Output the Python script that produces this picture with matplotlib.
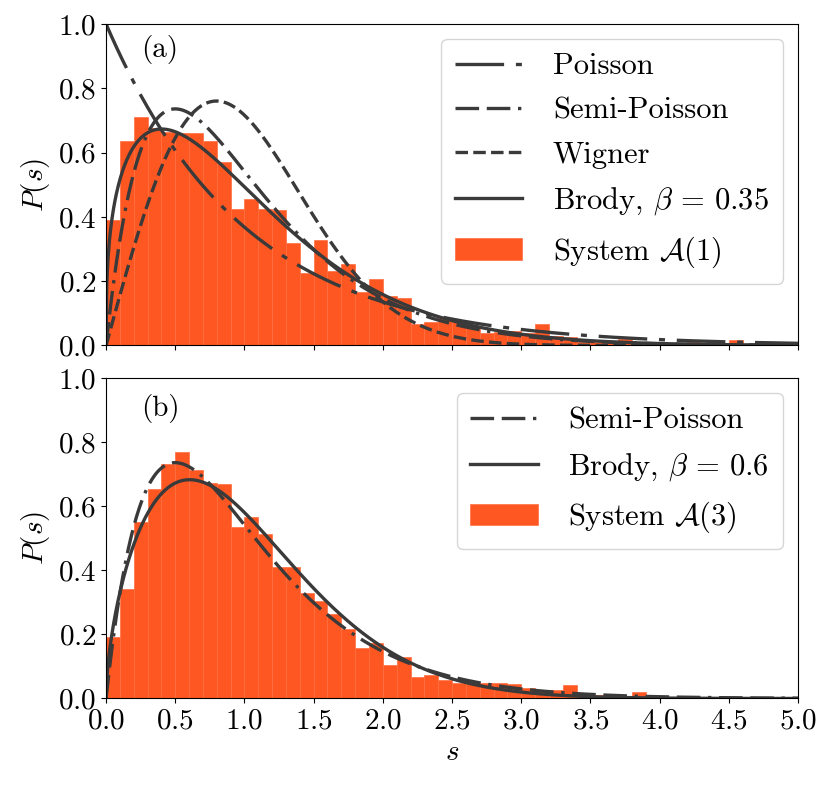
import numpy as np
import matplotlib
matplotlib.use("Agg")
import matplotlib.pyplot as plt
from math import gamma

plt.rcParams['font.family'] = 'serif'
plt.rcParams['font.serif'] = ['cmr10']
plt.rcParams['mathtext.fontset'] = 'cm'
plt.rcParams['axes.formatter.use_mathtext'] = True
plt.rcParams['font.size'] = 21
plt.rcParams['lines.scale_dashes'] = False

# histogram bins (left edges, width 0.1)
bin_left = np.round(np.arange(0.0, 5.0, 0.1), 1)

# System A(1), panel (a)
hist_a = [0.39, 0.635, 0.712, 0.675, 0.665, 0.662, 0.66, 0.635, 0.57, 0.425,
          0.455, 0.425, 0.42, 0.32, 0.225, 0.327, 0.233, 0.252, 0.165, 0.207,
          0.153, 0.148, 0.068, 0.072, 0.085, 0.075, 0.053, 0.04, 0.043, 0.046,
          0.038, 0.066, 0.03, 0.025, 0.012, 0.012, 0.01, 0.019, 0.008, 0.007,
          0.006, 0.006, 0.011, 0.004, 0.005, 0.017, 0.003, 0.002, 0.002, 0.001]

# System A(3), panel (b)
hist_b = [0.193, 0.341, 0.551, 0.655, 0.73, 0.769, 0.714, 0.672, 0.67, 0.535,
          0.566, 0.512, 0.409, 0.409, 0.328, 0.304, 0.263, 0.216, 0.156, 0.172,
          0.104, 0.128, 0.068, 0.073, 0.058, 0.047, 0.045, 0.049, 0.047, 0.044,
          0.032, 0.025, 0.026, 0.041, 0.015, 0.012, 0.01, 0.008, 0.02, 0.005,
          0.005, 0.004, 0.003, 0.003, 0.002, 0.002, 0.002, 0.001, 0.001, 0.001]

beta_a = 0.35
beta_b = 0.6

s = np.linspace(0, 5, 1000)

def poisson(s):
    return np.exp(-s)

def semi_poisson(s):
    return 4 * s * np.exp(-2 * s)

def wigner(s):
    return np.pi / 2 * s * np.exp(-np.pi * s**2 / 4)

def brody(s, beta):
    b = gamma((beta + 2) / (beta + 1)) ** (beta + 1)
    return (beta + 1) * b * s**beta * np.exp(-b * s**(beta + 1))

lc = '#3a3a3a'
lw = 2.4
bar_col = '#ff5722'
dash_p = (35, 8.5, 4.3, 8.5)
dash_sp = (17, 5.5, 17, 5.5, 2.4, 5.5)
dash_w = (9, 3.8)

leg_kw = dict(loc='upper right', fontsize=22, handlelength=2.2, handletextpad=1.0,
              labelspacing=0.55, borderpad=0.45, borderaxespad=0.5)

fig = plt.figure(figsize=(8.31, 7.92), dpi=100)
ax1 = fig.add_axes([0.1276, 0.5638, 0.8327, 0.406])
ax2 = fig.add_axes([0.1276, 0.1181, 0.8327, 0.4047], sharex=ax1)

# panel (a)
ax1.plot(s, poisson(s), color=lc, lw=lw, dashes=dash_p, label='Poisson')
ax1.plot(s, semi_poisson(s), color=lc, lw=lw, dashes=dash_sp, label='Semi-Poisson')
ax1.plot(s, wigner(s), color=lc, lw=lw, dashes=dash_w, label='Wigner')
ax1.plot(s, brody(s, beta_a), color=lc, lw=lw, label=r'Brody, $\beta\, =\, 0.35$')
ax1.bar(bin_left, hist_a, width=0.1, align='edge', color=bar_col,
        edgecolor='#ff6e40', linewidth=0.5, label=r'System $\mathcal{A}(1)$', zorder=1)
ax1.text(0.078, 0.92, '(a)', transform=ax1.transAxes, ha='center', va='center')
ax1.legend(**leg_kw)
ax1.set_ylabel(r'$P(s)$')
ax1.set_ylim(0, 1)
ax1.tick_params(labelbottom=False)

# panel (b)
ax2.plot(s, semi_poisson(s), color=lc, lw=lw, dashes=dash_sp, label='Semi-Poisson')
ax2.plot(s, brody(s, beta_b), color=lc, lw=lw, label=r'Brody, $\beta\, =\, 0.6$')
ax2.bar(bin_left, hist_b, width=0.1, align='edge', color=bar_col,
        edgecolor='#ff6e40', linewidth=0.5, label=r'System $\mathcal{A}(3)$', zorder=1)
ax2.text(0.078, 0.905, '(b)', transform=ax2.transAxes, ha='center', va='center')
ax2.legend(**leg_kw)
ax2.set_ylabel(r'$P(s)$')
ax2.set_xlabel(r'$s$')
ax2.set_ylim(0, 1)
ax2.set_xlim(0, 5)
ax2.set_xticks(np.arange(0, 5.01, 0.5))

for ax in (ax1, ax2):
    ax.set_yticks(np.arange(0, 1.01, 0.2))

fig.savefig('out.png', dpi=100)
